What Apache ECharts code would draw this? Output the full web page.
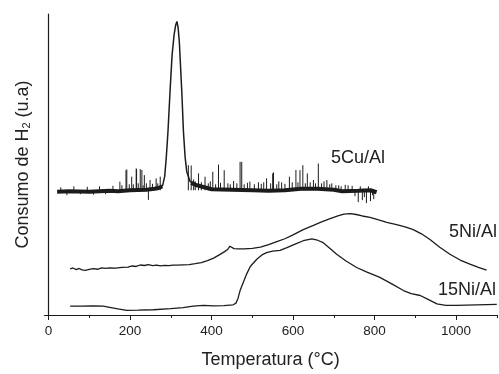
<!DOCTYPE html>
<html>
<head>
<meta charset="utf-8">
<script src="https://cdn.jsdelivr.net/npm/echarts@6/dist/echarts.min.js"></script>
<style>
  html, body { margin: 0; padding: 0; background: #fff; }
  #chart-container { width: 499px; height: 374px; }
</style>
</head>
<body>
<div id="chart-container"></div>
<script>
// TPR curves, x = temperature (C), y = H2 consumption (a.u., arbitrary offset)
const ni5Data = [
  [53, 46.5], [60, 47.5], [68, 45.8], [75, 47], [82, 45.5], [90, 45], [100, 46], [110, 46.8],
  [120, 46.2], [130, 47.5], [140, 47], [150, 47.6], [165, 47.4], [180, 48.2], [195, 48.4],
  [205, 49.5], [215, 49], [225, 50.5], [235, 50], [245, 50.8], [255, 49.8], [265, 50.4],
  [275, 49.6], [285, 50.2], [295, 49.8], [305, 50.4], [315, 50.3], [330, 50.6], [345, 50.8],
  [360, 51.8], [375, 53], [390, 55], [405, 57.5], [420, 61], [432, 64], [440, 66.5],
  [445, 69.5], [449, 68], [455, 67], [465, 66.7], [480, 66.8], [500, 67.3], [520, 68.5],
  [540, 71], [560, 74], [580, 77], [600, 81], [625, 86.3], [650, 90.5], [670, 94],
  [691, 97.3], [710, 100], [725, 101.8], [740, 102.3], [755, 101.5], [770, 100], [789, 98.7],
  [810, 96], [830, 93.5], [854, 91.3], [875, 89], [895, 86.3], [915, 82], [936, 76.3],
  [960, 68.5], [985, 61.3], [1010, 55.5], [1034, 51.3], [1055, 48], [1075, 45.3]
];

const ni15Data = [
  [53, 9], [80, 9], [110, 9.3], [134, 9], [150, 7.8], [170, 6.2], [192, 4.7], [220, 4.9],
  [257, 5.3], [300, 6.5], [330, 7.5], [355, 9], [380, 9.7], [404, 9.3], [430, 9.5],
  [453, 10.3], [460, 12], [465, 17], [470, 24.7], [478, 33], [486, 41.3], [495, 49],
  [511, 56.3], [525, 61], [535, 63], [550, 64.5], [568, 65.3], [585, 68], [605, 71.5],
  [625, 75], [646, 77], [660, 75.5], [674, 73], [690, 67.5], [707, 61.3], [730, 54.5],
  [756, 48], [780, 43.5], [813, 38], [840, 32], [871, 24.7], [890, 21.5], [912, 19.7],
  [930, 16], [953, 11.3], [975, 9.8], [1002, 9.7], [1025, 10], [1051, 10.3], [1075, 10.5],
  [1100, 10.7]
];

// 5Cu/Al: noisy baseline (drawn as a thick band) and the sharp peak
const cuBand = [
  [21, 124.5], [50, 125], [100, 124.5], [150, 125.5], [170, 125], [200, 126], [240, 126.5],
  [260, 127.5], [272, 128.5], [279, 130], null,
  [350, 133.5], [364, 131], [400, 127], [450, 126.5], [500, 126], [540, 125.5], [580, 126],
  [620, 127.5], [660, 127.5], [700, 126.5], [720, 125], [760, 125.5], [790, 126], [805, 124]
];
const cuPeak = [
  [270, 128.5], [280, 131], [285, 140], [289, 160], [293, 185], [298, 225], [303, 262],
  [308, 283], [312, 293], [315, 296.5], [318, 290], [321, 275], [324, 250], [327, 225],
  [331, 185], [335, 160], [339, 145], [347, 135], [364, 131]
];
// spikes sticking out of the noisy band: temperature and tip value
const cuSpikeT = [
  175, 190, 192, 204, 215, 216, 225, 229, 235, 245, 249, 264, 274,
  343, 350, 368, 384, 403, 417, 431, 454, 470, 474, 494, 515, 535, 550, 552, 572, 591,
  607, 617, 624, 635, 650, 662, 683, 695, 712, 735, 760, 770, 780, 790, 798,
  30, 45, 62, 78, 95, 110, 125, 140, 158, 180, 198, 208, 220, 232, 240, 255, 268,
  356, 360, 375, 392, 397, 410, 422, 440, 446, 462, 480, 488, 505, 522, 528, 545, 560,
  565, 580, 598, 612, 630, 642, 655, 670, 676, 690, 705, 718, 728, 745, 752, 765, 775, 785, 795
];
const cuSpikeY = [
  134.7, 146.3, 147, 139.7, 148, 147.5, 147.3, 146.5, 141.3, 116.3, 136.3, 138, 139.7,
  151.3, 151, 143, 139.7, 144.7, 152, 146.3, 135.3, 154.7, 154.7, 134.7, 134, 138, 143, 144, 134, 139.7,
  146.5, 146.3, 151.3, 143, 136.3, 153, 136.3, 133, 131, 131, 114, 116, 113, 115, 117,
  129, 121, 130, 122, 129.5, 121.5, 130, 122, 130.5, 131, 132, 132, 133, 131, 133, 132.5, 133,
  137, 135, 134, 133, 135, 132, 133.5, 133, 132, 133, 132, 133.5, 132, 132.5, 134, 133, 132,
  135, 132.5, 134, 134, 133, 134, 133, 133, 135, 132, 131, 130, 131.5, 130.5, 120, 130, 119, 130, 121
];

const labelFont = "Liberation Sans, Arial, sans-serif";
const ink = "#1c1c1c";

const spikeData = [];
cuSpikeT.forEach((t, i) => {
  spikeData.push([t, 126], [t, cuSpikeY[i]], null);
});

const chart = echarts.init(document.getElementById("chart-container"), null, { renderer: "canvas" });

const option = {
  animation: false,
  grid: { left: 44.5, right: 2.2, top: 14, bottom: 56 },
  xAxis: [
    {
      type: "value",
      min: -10,
      max: 1100,
      name: "Temperatura (°C)",
      nameLocation: "middle",
      nameGap: 36,
      nameTextStyle: { fontSize: 18, fontFamily: labelFont, color: "#222" },
      axisLine: { show: true, lineStyle: { color: ink, width: 1.2 } },
      axisTick: {
        show: true, inside: false, length: 5,
        customValues: [0, 200, 400, 600, 800, 1000],
        lineStyle: { color: ink, width: 1 }
      },
      axisLabel: {
        customValues: [0, 200, 400, 600, 800, 1000],
        formatter: (v) => String(v),
        margin: 9, fontSize: 13.5, fontFamily: labelFont, color: "#222"
      },
      splitLine: { show: false }
    },
    {
      // minor ticks only
      type: "value",
      min: -10,
      max: 1100,
      position: "bottom",
      axisLine: { show: false },
      axisTick: {
        show: true, length: 3,
        customValues: [100, 300, 500, 700, 900, 1100],
        lineStyle: { color: ink, width: 1 }
      },
      axisLabel: { show: false },
      splitLine: { show: false }
    }
  ],
  yAxis: {
    type: "value",
    min: 0,
    max: 304,
    name: "Consumo de H{sub|2} (u.a)",
    nameLocation: "middle",
    nameGap: 12,
    nameTextStyle: {
      fontSize: 18, fontFamily: labelFont, color: "#222",
      rich: { sub: { fontSize: 11, fontFamily: labelFont, color: "#222", verticalAlign: "bottom" } }
    },
    axisLine: { show: true, lineStyle: { color: ink, width: 1.2 } },
    axisTick: { show: false },
    axisLabel: { show: false },
    splitLine: { show: false }
  },
  series: [
    {
      name: "5Cu/Al band", type: "line", data: cuBand, showSymbol: false, connectNulls: false,
      lineStyle: { color: ink, width: 4 }
    },
    {
      name: "5Cu/Al", type: "line", data: cuPeak, showSymbol: false,
      lineStyle: { color: ink, width: 1.5 }
    },
    {
      name: "5Cu/Al spikes", type: "line", data: spikeData, showSymbol: false, connectNulls: false,
      lineStyle: { color: ink, width: 1 }
    },
    {
      name: "5Ni/Al", type: "line", data: ni5Data, showSymbol: false,
      lineStyle: { color: ink, width: 1.3 }
    },
    {
      name: "15Ni/Al", type: "line", data: ni15Data, showSymbol: false,
      lineStyle: { color: ink, width: 1.3 }
    }
  ],
  graphic: [
    { type: "text", x: 331, y: 158.5, style: { text: "5Cu/Al", fontSize: 18, fontFamily: labelFont, fill: "#222", verticalAlign: "middle" } },
    { type: "text", x: 449, y: 232.5, style: { text: "5Ni/Al", fontSize: 18, fontFamily: labelFont, fill: "#222", verticalAlign: "middle" } },
    { type: "text", x: 438, y: 290, style: { text: "15Ni/Al", fontSize: 18, fontFamily: labelFont, fill: "#222", verticalAlign: "middle" } }
  ]
};

chart.setOption(option);
window.addEventListener("resize", () => chart.resize());
</script>
</body>
</html>
